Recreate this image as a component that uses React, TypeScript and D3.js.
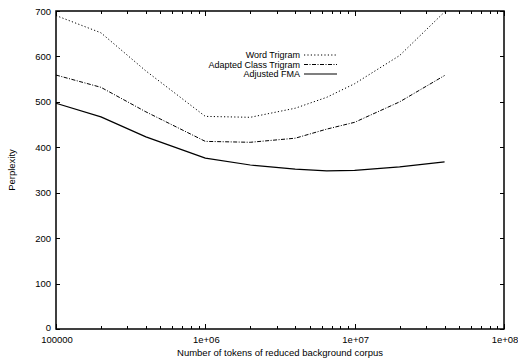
import { useEffect, useRef } from 'react';
import * as d3 from 'd3';

const TOKENS = [1e5, 2e5, 4e5, 1e6, 2e6, 4e6, 6.5e6, 1e7, 2e7, 4e7];
const WORD_TRIGRAM = [690, 652, 568, 468, 466, 486, 510, 540, 602, 698];
const ADAPTED_CLASS = [559, 532, 478, 413, 411, 420, 440, 455, 500, 558];
const ADJUSTED_FMA = [497, 467, 423, 376, 361, 352, 348, 349, 357, 368];

const X_TICKS = [1e5, 1e6, 1e7, 1e8];
const X_TICK_LABELS = ['100000', '1e+06', '1e+07', '1e+08'];
const Y_TICKS = [0, 100, 200, 300, 400, 500, 600, 700];

const SERIES = [
  { name: 'Word Trigram', values: WORD_TRIGRAM, dash: '1.2 2.2', width: 1 },
  { name: 'Adapted Class Trigram', values: ADAPTED_CLASS, dash: '4 1.5 1 1.5', width: 1 },
  { name: 'Adjusted FMA', values: ADJUSTED_FMA, dash: null, width: 1.2 },
];

const FONT = '"Liberation Sans", Arial, Helvetica, sans-serif';
const INK = '#000000';

export default function App() {
  const ref = useRef<SVGSVGElement>(null);

  useEffect(() => {
    const svg = d3.select(ref.current);
    if (!svg.node()) return;
    svg.selectAll('*').remove();

    const width = 518;
    const height = 362;
    const margin = { top: 11, right: 14, bottom: 33, left: 56 };

    const x = d3
      .scaleLog()
      .domain([1e5, 1e8])
      .range([margin.left, width - margin.right]);
    const y = d3
      .scaleLinear()
      .domain([0, 700])
      .range([height - margin.bottom, margin.top]);

    const g = svg.append('g');
    const x0 = margin.left;
    const x1 = width - margin.right;
    const y0 = height - margin.bottom;
    const y1 = margin.top;

    // minor + major x ticks, bottom and top, pointing inward
    const minor: number[] = [];
    for (let e = 5; e < 8; e++) for (let m = 2; m <= 9; m++) minor.push(m * 10 ** e);
    const tickG = g.append('g').attr('stroke', INK).attr('stroke-width', 1);
    minor.forEach((v) => {
      const px = Math.round(x(v)) + 0.5;
      tickG.append('line').attr('x1', px).attr('x2', px).attr('y1', y0).attr('y2', y0 - 3);
      tickG.append('line').attr('x1', px).attr('x2', px).attr('y1', y1).attr('y2', y1 + 3);
    });
    X_TICKS.forEach((v) => {
      const px = Math.round(x(v)) + 0.5;
      tickG.append('line').attr('x1', px).attr('x2', px).attr('y1', y0).attr('y2', y0 - 5);
      tickG.append('line').attr('x1', px).attr('x2', px).attr('y1', y1).attr('y2', y1 + 5);
    });
    Y_TICKS.forEach((v) => {
      const py = Math.round(y(v)) + 0.5;
      tickG.append('line').attr('x1', x0).attr('x2', x0 + 4).attr('y1', py).attr('y2', py);
      tickG.append('line').attr('x1', x1).attr('x2', x1 - 4).attr('y1', py).attr('y2', py);
    });

    // frame
    g.append('rect')
      .attr('x', x0)
      .attr('y', y1)
      .attr('width', x1 - x0)
      .attr('height', y0 - y1)
      .attr('fill', 'none')
      .attr('stroke', INK)
      .attr('stroke-width', 1.5);

    // tick labels
    g.selectAll('text.xt')
      .data(X_TICKS)
      .join('text')
      .attr('class', 'xt')
      .attr('x', (d) => x(d) + 1)
      .attr('y', y0 + 13.5)
      .attr('text-anchor', 'middle')
      .attr('font-family', FONT)
      .attr('font-size', 9.5)
      .attr('fill', INK)
      .text((_, i) => X_TICK_LABELS[i]);

    g.selectAll('text.yt')
      .data(Y_TICKS)
      .join('text')
      .attr('class', 'yt')
      .attr('x', x0 - 5)
      .attr('y', (d) => y(d) + (d === 0 ? 2 : 3.5))
      .attr('text-anchor', 'end')
      .attr('font-family', FONT)
      .attr('font-size', 9.5)
      .attr('fill', INK)
      .text((d) => String(d));

    g.append('text')
      .attr('x', (x0 + x1) / 2)
      .attr('y', height - 6)
      .attr('text-anchor', 'middle')
      .attr('font-family', FONT)
      .attr('font-size', 9.5)
      .attr('fill', INK)
      .text('Number of tokens of reduced background corpus');

    g.append('text')
      .attr('transform', `translate(15,${(y0 + y1) / 2}) rotate(-90)`)
      .attr('text-anchor', 'middle')
      .attr('font-family', FONT)
      .attr('font-size', 9.5)
      .attr('fill', INK)
      .text('Perplexity');

    // series lines
    const line = d3
      .line<number>()
      .x((_, i) => x(TOKENS[i]))
      .y((d) => y(d));

    SERIES.forEach((s) => {
      g.append('path')
        .attr('d', line(s.values))
        .attr('fill', 'none')
        .attr('stroke', INK)
        .attr('stroke-width', s.width)
        .attr('stroke-dasharray', s.dash)
        .attr('stroke-linejoin', 'round');
    });

    // legend
    const legX = 300;
    const legY = 55;
    SERIES.forEach((s, i) => {
      const ly = legY + i * 9.5;
      g.append('text')
        .attr('x', legX)
        .attr('y', ly + 3.2)
        .attr('text-anchor', 'end')
        .attr('font-family', FONT)
        .attr('font-size', 9)
        .attr('fill', INK)
        .text(s.name);
      g.append('line')
        .attr('x1', legX + 4)
        .attr('x2', legX + 37)
        .attr('y1', ly)
        .attr('y2', ly)
        .attr('stroke', INK)
        .attr('stroke-width', s.width)
        .attr('stroke-dasharray', s.dash);
    });
  }, []);

  return (
    <svg
      ref={ref}
      width={518}
      height={362}
      style={{ position: 'absolute', left: 0, top: 0, background: '#fff' }}
    />
  );
}
